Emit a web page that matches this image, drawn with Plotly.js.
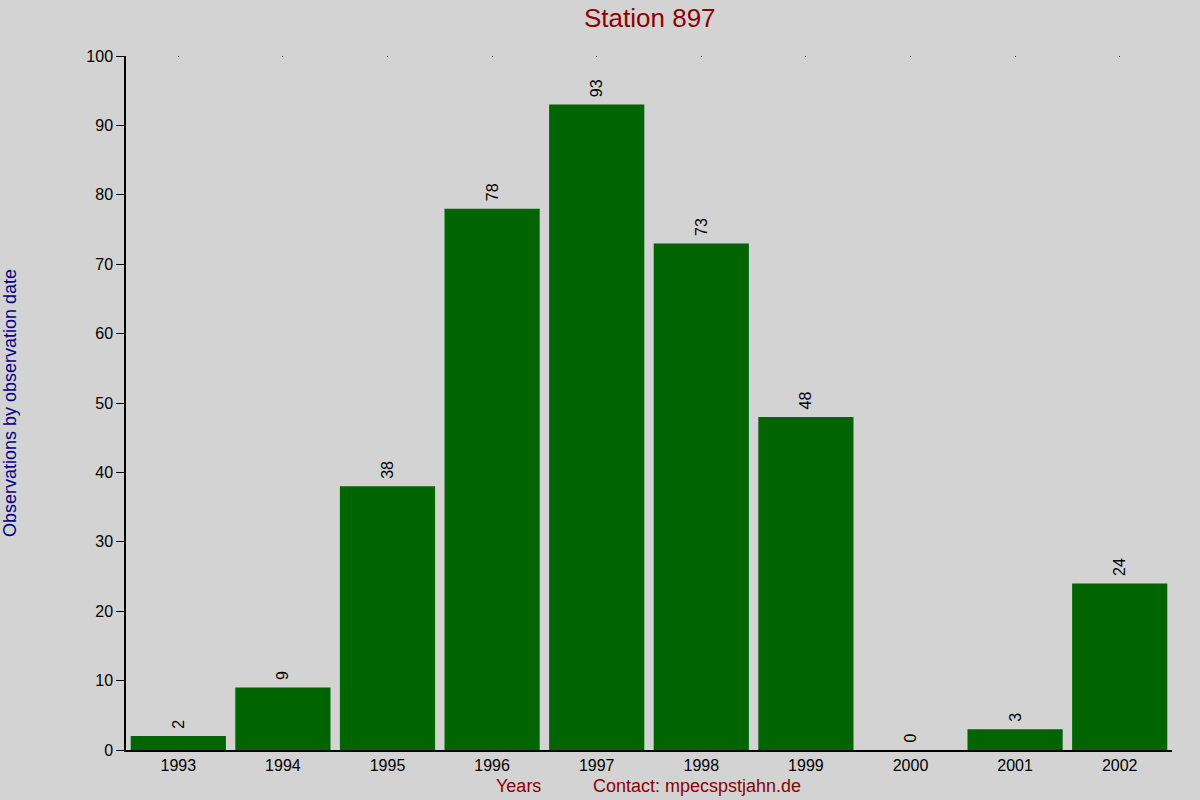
<!DOCTYPE html>
<html>
<head>
<meta charset="utf-8">
<script src="https://cdn.plot.ly/plotly-3.0.1.min.js"></script>
<style>
  body { margin: 0; background: #d3d3d3; }
  #chart { width: 1200px; height: 800px; }
</style>
</head>
<body>
<div id="chart"></div>
<script>
// observations per year for station 897
const years = ['1993', '1994', '1995', '1996', '1997', '1998', '1999', '2000', '2001', '2002'];
const counts = [2, 9, 38, 78, 93, 73, 48, 0, 3, 24];
const yTicks = [0, 10, 20, 30, 40, 50, 60, 70, 80, 90, 100];

const font = 'Liberation Sans, Arial, sans-serif';

const trace = {
    x: years,
    y: counts,
    type: 'bar',
    marker: { color: '#006400' },
    // leading nbsp keeps the rotated label a bit above the bar
    text: counts.map(v => '\u00a0' + v),
    textposition: 'outside',
    textangle: -90,
    textfont: { family: font, size: 16, color: '#000000' },
    cliponaxis: false,
    hoverinfo: 'x+y'
};

// dummy trace so the top axis with its little dots gets drawn
const topTrace = {
    x: years,
    y: counts,
    type: 'scatter',
    mode: 'none',
    xaxis: 'x2',
    hoverinfo: 'skip',
    showlegend: false
};

const layout = {
    width: 1200,
    height: 800,
    paper_bgcolor: '#d3d3d3',
    plot_bgcolor: '#d3d3d3',
    margin: { l: 126, r: 28, t: 56, b: 50 },
    bargap: 0.09,
    showlegend: false,
    font: { family: font, size: 16, color: '#000000' },
    title: {
        text: 'Station 897',
        font: { family: font, size: 26, color: '#8b0000' },
        x: 0.5415,
        xanchor: 'center',
        y: 0.978,
        yanchor: 'middle'
    },
    xaxis: {
        type: 'category',
        showline: true,
        linecolor: '#000000',
        linewidth: 1.5,
        ticks: '',
        showgrid: false,
        zeroline: false,
        tickfont: { family: font, size: 16, color: '#000000' }
    },
    xaxis2: {
        type: 'category',
        overlaying: 'x',
        matches: 'x',
        side: 'top',
        showline: false,
        ticks: 'inside',
        ticklen: 1,
        tickwidth: 1,
        tickcolor: '#000000',
        showticklabels: false,
        showgrid: false,
        zeroline: false
    },
    yaxis: {
        range: [0, 100],
        tickvals: yTicks,
        ticks: 'outside',
        ticklen: 8,
        tickcolor: '#000000',
        showline: true,
        linecolor: '#000000',
        linewidth: 1.5,
        showgrid: false,
        zeroline: false,
        tickfont: { family: font, size: 16, color: '#000000' },
        title: {
            text: 'Observations by observation date',
            font: { family: font, size: 18, color: '#00008b' },
            standoff: 66
        }
    },
    annotations: [
        {
            text: 'Years',
            xref: 'paper', yref: 'paper',
            x: 0.3748, y: -0.052,
            xanchor: 'center', yanchor: 'middle',
            showarrow: false,
            font: { family: font, size: 18, color: '#8b0000' }
        },
        {
            text: 'Contact: mpecspstjahn.de',
            xref: 'paper', yref: 'paper',
            x: 0.546, y: -0.052,
            xanchor: 'center', yanchor: 'middle',
            showarrow: false,
            font: { family: font, size: 18, color: '#8b0000' }
        }
    ]
};

Plotly.newPlot('chart', [trace, topTrace], layout, { displayModeBar: false });
</script>
</body>
</html>
